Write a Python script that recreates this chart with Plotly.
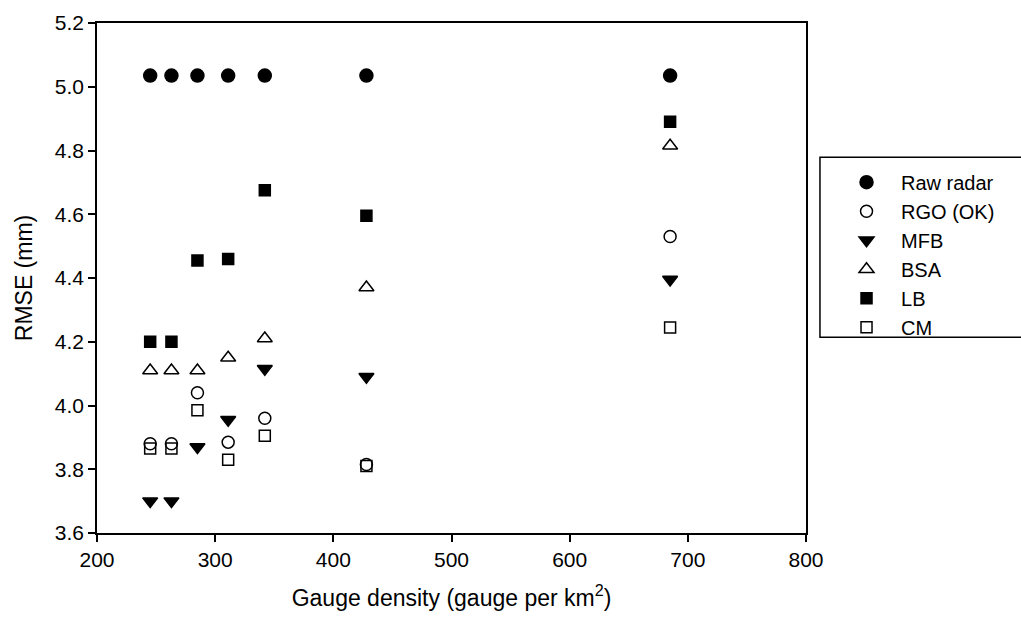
import plotly.graph_objects as go

x_density = [245, 263, 285, 311, 342, 428, 685]
raw_radar = [5.035, 5.035, 5.035, 5.035, 5.035, 5.035, 5.035]
rgo_ok = [3.88, 3.88, 4.04, 3.885, 3.96, 3.815, 4.53]
mfb = [3.70, 3.70, 3.87, 3.955, 4.115, 4.09, 4.395]
bsa = [4.11, 4.11, 4.11, 4.15, 4.21, 4.37, 4.815]
lb = [4.20, 4.20, 4.455, 4.46, 4.675, 4.595, 4.89]
cm = [3.865, 3.865, 3.985, 3.83, 3.905, 3.81, 4.245]

series = [
    ("Raw radar", raw_radar, "circle", 13),
    ("RGO (OK)", rgo_ok, "circle-open", 12),
    ("MFB", mfb, "triangle-down", 13),
    ("BSA", bsa, "triangle-up-open", 13),
    ("LB", lb, "square", 11),
    ("CM", cm, "square-open", 11),
]

fig = go.Figure()
for i, (name, vals, sym, size) in enumerate(series):
    fig.add_trace(go.Scatter(
        x=x_density, y=vals, mode="markers", name=name,
        legendgroup=f"g{i}",
        marker=dict(symbol=sym, size=size, color="black",
                    line=dict(color="black", width=1.5)),
    ))

FONT = "Liberation Sans, Arial, sans-serif"
axis_common = dict(
    showline=True, linecolor="black", linewidth=1.5, mirror=True,
    ticks="outside", ticklen=7, tickwidth=1.5, tickcolor="black",
    showgrid=False, zeroline=False,
    tickfont=dict(family=FONT, size=21, color="black"),
)

# legend frame (box extends past the right edge, as in the reference)
fig.add_shape(type="rect", xref="paper", yref="paper",
              x0=1.0197, x1=1.32, y0=0.384, y1=0.737,
              line=dict(color="black", width=1.5), fillcolor="rgba(0,0,0,0)")

fig.update_layout(
    width=1021, height=620,
    margin=dict(l=97, r=215, t=23, b=87, autoexpand=False),
    paper_bgcolor="white", plot_bgcolor="white",
    font=dict(family=FONT, color="black"),
    xaxis=dict(range=[200, 800], tickvals=[200, 300, 400, 500, 600, 700, 800],
               title=dict(text="Gauge density (gauge per km<sup>2</sup>)",
                          font=dict(family=FONT, size=23), standoff=20),
               **axis_common),
    yaxis=dict(range=[3.6, 5.2], tickvals=[3.6, 3.8, 4.0, 4.2, 4.4, 4.6, 4.8, 5.0, 5.2],
               ticktext=["3.6", "3.8", "4.0", "4.2", "4.4", "4.6", "4.8", "5.0", "5.2"],
               title=dict(text="RMSE (mm)", font=dict(family=FONT, size=23), standoff=16),
               **axis_common),
    legend=dict(
        x=1.0367, y=0.726, xanchor="left", yanchor="top",
        borderwidth=0, bgcolor="rgba(0,0,0,0)",
        font=dict(family=FONT, size=20, color="black"),
        traceorder="grouped", tracegroupgap=0,
        itemwidth=59,
    ),
)

fig.write_html("out.html")
